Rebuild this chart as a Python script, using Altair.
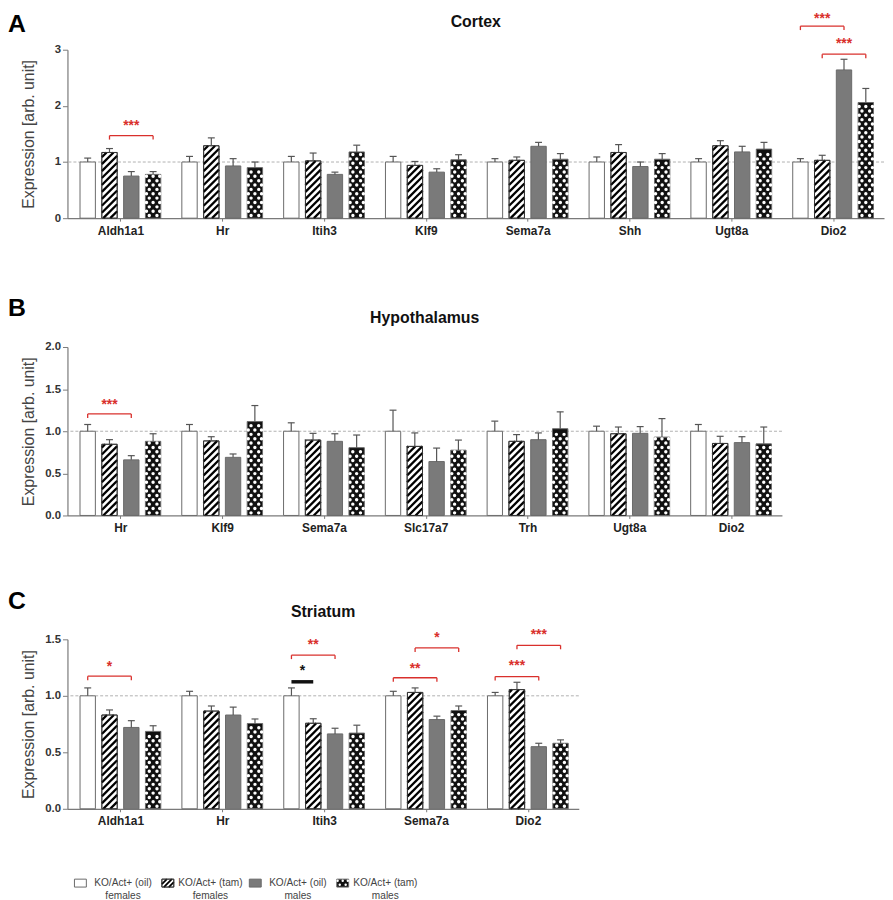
import altair as alt
import pandas as pd

FONT = "Liberation Sans"

# ---------------- data ----------------
SERIES = ["KO/Act+ (oil) females", "KO/Act+ (tam) females",
          "KO/Act+ (oil) males", "KO/Act+ (tam) males"]
LEGEND_LINE1 = ["KO/Act+ (oil)", "KO/Act+ (tam)", "KO/Act+ (oil)", "KO/Act+ (tam)"]
LEGEND_LINE2 = ["females", "females", "males", "males"]

# Cortex
cortex_genes = ["Aldh1a1", "Hr", "Itih3", "Klf9", "Sema7a", "Shh", "Ugt8a", "Dio2"]
cortex_oil_f = [1.00, 1.00, 1.00, 1.00, 1.00, 1.00, 1.00, 1.00]
cortex_oil_f_err = [0.07, 0.10, 0.10, 0.10, 0.06, 0.09, 0.06, 0.06]
cortex_tam_f = [1.17, 1.29, 1.02, 0.94, 1.03, 1.17, 1.29, 1.03]
cortex_tam_f_err = [0.07, 0.14, 0.14, 0.07, 0.06, 0.14, 0.09, 0.09]
cortex_oil_m = [0.75, 0.93, 0.78, 0.82, 1.28, 0.92, 1.18, 2.64]
cortex_oil_m_err = [0.08, 0.13, 0.04, 0.06, 0.07, 0.08, 0.10, 0.19]
cortex_tam_m = [0.78, 0.90, 1.18, 1.04, 1.05, 1.05, 1.23, 2.06]
cortex_tam_m_err = [0.05, 0.10, 0.12, 0.09, 0.10, 0.10, 0.12, 0.25]
cortex_sig_gene = ["Aldh1a1", "Dio2", "Dio2"]
cortex_sig_from = [1, 0, 1]
cortex_sig_to = [3, 2, 3]
cortex_sig_level = [1.47, 3.42, 2.92]
cortex_sig_text_y = [1.70, 3.60, 3.15]
cortex_sig_label = ["***", "***", "***"]

# Hypothalamus
hyp_genes = ["Hr", "Klf9", "Sema7a", "Slc17a7", "Trh", "Ugt8a", "Dio2"]
hyp_oil_f = [1.00, 1.00, 1.00, 1.00, 1.00, 1.00, 1.00]
hyp_oil_f_err = [0.08, 0.08, 0.10, 0.25, 0.12, 0.06, 0.08]
hyp_tam_f = [0.845, 0.885, 0.895, 0.82, 0.88, 0.97, 0.855]
hyp_tam_f_err = [0.055, 0.05, 0.08, 0.16, 0.08, 0.08, 0.085]
hyp_oil_m = [0.66, 0.69, 0.88, 0.64, 0.90, 0.975, 0.865]
hyp_oil_m_err = [0.05, 0.04, 0.09, 0.16, 0.08, 0.08, 0.07]
hyp_tam_m = [0.88, 1.115, 0.805, 0.775, 1.03, 0.93, 0.85]
hyp_tam_m_err = [0.09, 0.19, 0.15, 0.12, 0.20, 0.22, 0.20]
hyp_sig_gene = ["Hr"]
hyp_sig_from = [0]
hyp_sig_to = [2]
hyp_sig_level = [1.205]
hyp_sig_text_y = [1.35]
hyp_sig_label = ["***"]

# Striatum
str_genes = ["Aldh1a1", "Hr", "Itih3", "Sema7a", "Dio2"]
str_oil_f = [1.00, 1.00, 1.00, 1.00, 1.00]
str_oil_f_err = [0.07, 0.04, 0.07, 0.04, 0.03]
str_tam_f = [0.83, 0.865, 0.757, 1.03, 1.055]
str_tam_f_err = [0.045, 0.045, 0.04, 0.04, 0.065]
str_oil_m = [0.72, 0.83, 0.663, 0.79, 0.55]
str_oil_m_err = [0.06, 0.07, 0.05, 0.03, 0.03]
str_tam_m = [0.685, 0.755, 0.67, 0.87, 0.58]
str_tam_m_err = [0.05, 0.04, 0.07, 0.04, 0.03]
str_sig_gene = ["Aldh1a1", "Itih3", "Sema7a", "Sema7a", "Dio2", "Dio2"]
str_sig_from = [0, 0, 0, 1, 0, 1]
str_sig_to = [2, 2, 2, 3, 2, 3]
str_sig_level = [1.174, 1.36, 1.16, 1.424, 1.17, 1.447]
str_sig_text_y = [1.277, 1.476, 1.265, 1.54, 1.29, 1.565]
str_sig_label = ["*", "**", "**", "*", "***", "***"]
str_sex_gene = ["Itih3"]
str_sex_from = [0]
str_sex_to = [1]
str_sex_level = [1.124]
str_sex_text_y = [1.247]
str_sex_label = ["*"]

# ---------------- style / layout ----------------
GW = 102.74          # px per gene group
BAR_W = 15.5         # bar width px
BAR_STEP = 22.0      # distance between bar centres px
FILLS = ["#ffffff", "#ffffff", "#7a7a7a", "#111111"]
OUTLINE = "#6a6a6a"
AXIS_GRAY = "#7a7a7a"
RED = "#d9302c"
STRIPE_P = 7.0
STRIPE_W = 2.3
DOT_RS = 4.4
DOT_SIZE = 12


def stripe_layer(base, W, PX, PY, xs, ys, xa, ya, P=STRIPE_P, sw=STRIPE_W):
    return base.transform_filter("datum.s == 1").transform_calculate(
        H=f"datum.v * {PY}"
    ).transform_calculate(
        ks=f"sequence(0, ceil((datum.H + {W}) / {P}) + 1)"
    ).transform_flatten(["ks"], as_=["k"]).transform_calculate(
        c=f"datum.k * {P} - {W}"
    ).transform_calculate(
        xs0="max(0, -datum.c)", xe0=f"min({W}, datum.H - datum.c)"
    ).transform_filter("datum.xs0 < datum.xe0").transform_calculate(
        sx1=f"datum.xl + datum.xs0 / {PX}",
        sy1=f"(datum.xs0 + datum.c) / {PY}",
        sx2=f"datum.xl + datum.xe0 / {PX}",
        sy2=f"(datum.xe0 + datum.c) / {PY}",
    ).mark_rule(color="black", strokeWidth=sw).encode(
        x=alt.X("sx1:Q", scale=xs, axis=xa),
        y=alt.Y("sy1:Q", scale=ys, axis=ya),
        x2="sx2:Q", y2="sy2:Q",
    )


def dot_layer(base, W, PX, PY, xs, ys, xa, ya, RS=DOT_RS, size=DOT_SIZE):
    return base.transform_filter("datum.s == 3").transform_calculate(
        H=f"datum.v * {PY}"
    ).transform_calculate(
        rs=f"sequence(0, max(0, floor((datum.H - 1.5 - {0.6 * RS}) / {RS}) + 1))"
    ).transform_flatten(["rs"], as_=["r"]).transform_calculate(
        cs=f"datum.r % 2 == 0 ? [{W * 0.25}, {W * 0.75}] : [{W * 0.07}, {W * 0.5}, {W * 0.93}]"
    ).transform_flatten(["cs"], as_=["cx"]).transform_calculate(
        px=f"datum.xl + datum.cx / {PX}",
        py=f"({0.6 * RS} + datum.r * {RS}) / {PY}",
    ).mark_point(shape="circle", filled=True, color="white", size=size, opacity=1).encode(
        x=alt.X("px:Q", scale=xs, axis=xa),
        y=alt.Y("py:Q", scale=ys, axis=ya),
    )


def sig_layers(genes, gl, fr, to, lev, ty, lab, PX, PY, xs, ys, xa, ya, color, black_bar=False):
    df = pd.DataFrame({"g": [genes.index(x) for x in gl], "a": fr, "b": to,
                       "lev": lev, "ty": ty, "lab": lab})
    su = BAR_STEP / PX
    b = alt.Chart(df).transform_calculate(
        xa=f"datum.g + (datum.a - 1.5) * {su}",
        xb=f"datum.g + (datum.b - 1.5) * {su}",
    ).transform_calculate(
        xm="(datum.xa + datum.xb) / 2",
        low=f"datum.lev - 4 / {PY}",
    )
    out = []
    out.append(b.mark_rule(color=color, strokeWidth=3.5 if black_bar else 1.3).encode(
        x=alt.X("xa:Q", scale=xs, axis=xa), x2="xb:Q",
        y=alt.Y("lev:Q", scale=ys, axis=ya)))
    if not black_bar:
        for f in ["xa", "xb"]:
            out.append(b.mark_rule(color=color, strokeWidth=1.3).encode(
                x=alt.X(f"{f}:Q", scale=xs, axis=xa),
                y=alt.Y("low:Q", scale=ys, axis=ya), y2="lev:Q"))
    out.append(b.mark_text(color=color, fontSize=14, fontWeight="bold", font=FONT,
                           baseline="middle", dy=3).encode(
        x=alt.X("xm:Q", scale=xs, axis=xa),
        y=alt.Y("ty:Q", scale=ys, axis=ya), text="lab:N"))
    return out


def panel(letter, letter_dy, title, title_dy, genes, means, errs, ymax, yticks, yfmt, height,
          sigs, black=None):
    n = len(genes)
    width = round((n + 0.02) * GW)
    PX = width / (n + 0.02)
    PY = height / ymax
    rows = []
    for s in range(4):
        for g in range(n):
            rows.append({"g": g, "s": s, "v": means[s][g], "e": errs[s][g]})
    df = pd.DataFrame(rows)
    su = BAR_STEP / PX
    hu = BAR_W / 2 / PX
    cu = 3.5 / PX
    xs = alt.Scale(domain=[-0.52, n - 0.5], nice=False, zero=False)
    ys = alt.Scale(domain=[0, ymax], nice=False)
    base = alt.Chart(df).transform_calculate(
        xc=f"datum.g + (datum.s - 1.5) * {su}"
    ).transform_calculate(
        xl=f"datum.xc - {hu}", xr=f"datum.xc + {hu}",
        cl=f"datum.xc - {cu}", cr=f"datum.xc + {cu}",
        zero="0", top="datum.v + datum.e",
    )
    label_expr = "[" + ",".join(f"'{g}'" for g in genes) + "][datum.value]"
    xa = alt.Axis(values=list(range(n)), labelExpr=label_expr, title=None, tickSize=3,
                  tickColor=AXIS_GRAY, domainColor=AXIS_GRAY, labelFont=FONT, labelFontSize=12,
                  labelFontWeight="bold", labelColor="#222", labelPadding=4, grid=False,
                  labelFlush=False, domainWidth=1.2)
    ya = alt.Axis(values=yticks, format=yfmt, title="Expression [arb. unit]", titleFont=FONT,
                  titleFontSize=16, titleFontWeight="normal", titleColor="#444", titlePadding=5,
                  tickSize=5, tickColor=AXIS_GRAY, domainColor=AXIS_GRAY, labelFont=FONT,
                  labelFontSize=11.5, labelFontWeight="bold", labelColor="#333", labelPadding=2,
                  minExtent=26, maxExtent=26, grid=False, labelFlush=False, domainWidth=1.2)
    layers = []
    layers.append(alt.Chart(pd.DataFrame({"ref": [1.0]})).mark_rule(
        color="#b0b0b0", strokeDash=[3, 2], strokeWidth=1).encode(
        y=alt.Y("ref:Q", scale=ys, axis=ya)))
    layers.append(base.mark_rect(stroke=OUTLINE, strokeWidth=1).encode(
        x=alt.X("xl:Q", scale=xs, axis=xa), x2="xr:Q",
        y=alt.Y("v:Q", scale=ys, axis=ya), y2="zero:Q",
        fill=alt.Fill("s:N", scale=alt.Scale(domain=[0, 1, 2, 3], range=FILLS), legend=None)))
    layers.append(stripe_layer(base, BAR_W, PX, PY, xs, ys, xa, ya))
    layers.append(base.transform_filter("datum.s == 1").mark_rect(
        fill="white", fillOpacity=0, stroke="#333", strokeWidth=1).encode(
        x=alt.X("xl:Q", scale=xs, axis=xa), x2="xr:Q",
        y=alt.Y("v:Q", scale=ys, axis=ya), y2="zero:Q"))
    layers.append(dot_layer(base, BAR_W, PX, PY, xs, ys, xa, ya))
    layers.append(base.mark_rule(color="#555", strokeWidth=1.2).encode(
        x=alt.X("xc:Q", scale=xs, axis=xa),
        y=alt.Y("v:Q", scale=ys, axis=ya), y2="top:Q"))
    layers.append(base.mark_rule(color="#555", strokeWidth=1.2).encode(
        x=alt.X("cl:Q", scale=xs, axis=xa), x2="cr:Q",
        y=alt.Y("top:Q", scale=ys, axis=ya)))
    layers += sig_layers(genes, *sigs, PX, PY, xs, ys, xa, ya, RED)
    if black is not None:
        layers += sig_layers(genes, *black, PX, PY, xs, ys, xa, ya, "#111", black_bar=True)
    layers.append(alt.Chart(pd.DataFrame({"t": [title]})).mark_text(
        font=FONT, fontSize=16, fontWeight="bold", color="#111", align="center",
        baseline="alphabetic").encode(x=alt.value(width / 2), y=alt.value(title_dy), text="t:N"))
    layers.append(alt.Chart(pd.DataFrame({"t": [letter]})).mark_text(
        font=FONT, fontSize=25, fontWeight="bold", color="#000", align="left",
        baseline="top").encode(x=alt.value(-60), y=alt.value(letter_dy), text="t:N"))
    return alt.layer(*layers).properties(width=width, height=height)


def legend_panel():
    W = 12.0
    width = 360
    PX = width / 4.08
    PY = 8.0
    df = pd.DataFrame({"s": [0, 1, 2, 3], "v": [1.0] * 4, "e": [0.0] * 4,
                       "lab": [a + "\n" + b for a, b in zip(LEGEND_LINE1, LEGEND_LINE2)],
                       "name": SERIES})
    xs = alt.Scale(domain=[-0.08, 4.0], nice=False, zero=False)
    ys = alt.Scale(domain=[0, 1], nice=False)
    base = alt.Chart(df).transform_calculate(
        xl="datum.s", xr=f"datum.s + {W / PX}", zero="0", mid="0.5",
        tx=f"datum.s + {49 / PX}",
    )
    layers = [
        base.mark_rect(stroke=OUTLINE, strokeWidth=1).encode(
            x=alt.X("xl:Q", scale=xs, axis=None), x2="xr:Q",
            y=alt.Y("v:Q", scale=ys, axis=None), y2="zero:Q",
            fill=alt.Fill("s:N", scale=alt.Scale(domain=[0, 1, 2, 3], range=FILLS), legend=None)),
        stripe_layer(base, W, PX, PY, xs, ys, None, None, P=5.0, sw=1.8),
        base.transform_filter("datum.s == 1").mark_rect(
            fill="white", fillOpacity=0, stroke="#333", strokeWidth=1).encode(
            x=alt.X("xl:Q", scale=xs, axis=None), x2="xr:Q",
            y=alt.Y("v:Q", scale=ys, axis=None), y2="zero:Q"),
        dot_layer(base, W, PX, PY, xs, ys, None, None, RS=4.0, size=6),
        base.mark_text(font=FONT, fontSize=10.2, color="#444", align="center", baseline="middle",
                       lineBreak="\n", lineHeight=13).encode(
            x=alt.X("tx:Q", scale=xs, axis=None),
            y=alt.Y("mid:Q", scale=ys, axis=None), text="lab:N"),
    ]
    return alt.layer(*layers).properties(width=width, height=8)


A = panel("A", -38, "Cortex", -23, cortex_genes,
          [cortex_oil_f, cortex_tam_f, cortex_oil_m, cortex_tam_m],
          [cortex_oil_f_err, cortex_tam_f_err, cortex_oil_m_err, cortex_tam_m_err],
          3, [0, 1, 2, 3], "d", 170,
          (cortex_sig_gene, cortex_sig_from, cortex_sig_to, cortex_sig_level,
           cortex_sig_text_y, cortex_sig_label))
B = panel("B", -51, "Hypothalamus", -24, hyp_genes,
          [hyp_oil_f, hyp_tam_f, hyp_oil_m, hyp_tam_m],
          [hyp_oil_f_err, hyp_tam_f_err, hyp_oil_m_err, hyp_tam_m_err],
          2, [0, 0.5, 1, 1.5, 2], ".1f", 170,
          (hyp_sig_gene, hyp_sig_from, hyp_sig_to, hyp_sig_level, hyp_sig_text_y, hyp_sig_label))
C = panel("C", -51, "Striatum", -23, str_genes,
          [str_oil_f, str_tam_f, str_oil_m, str_tam_m],
          [str_oil_f_err, str_tam_f_err, str_oil_m_err, str_tam_m_err],
          1.5, [0, 0.5, 1, 1.5], ".1f", 171,
          (str_sig_gene, str_sig_from, str_sig_to, str_sig_level, str_sig_text_y, str_sig_label),
          black=(str_sex_gene, str_sex_from, str_sex_to, str_sex_level, str_sex_text_y, str_sex_label))
L = legend_panel()

chart = alt.vconcat(
    A,
    alt.vconcat(B, alt.vconcat(C, L, spacing=71, bounds="flush"), spacing=125, bounds="flush"),
    spacing=130, bounds="flush",
).properties(padding=0).configure(font=FONT, view=alt.ViewConfig(stroke=None))

chart.save("out.html", embed_options={"renderer": "svg", "actions": False})
